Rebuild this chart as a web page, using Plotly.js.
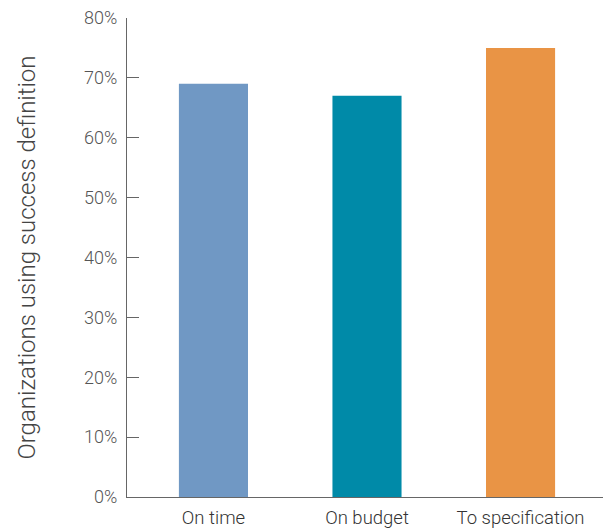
<!DOCTYPE html>
<html>
<head>
<meta charset="utf-8">
<script src="https://cdn.plot.ly/plotly-3.0.1.min.js"></script>
<style>html,body{margin:0;padding:0;background:#fff;}#chart{width:603px;height:530px;}</style>
</head>
<body>
<div id="chart"></div>
<script>
const categories = ["On time", "On budget", "To specification"];
const values = [69, 67, 75];
const barColors = ["#7098C4", "#008AA8", "#E99445"];
const yTickVals = [0, 10, 20, 30, 40, 50, 60, 70, 80];
const yTickText = ["0%", "10%", "20%", "30%", "40%", "50%", "60%", "70%", "80%"];

const trace = {
  type: "bar",
  x: categories,
  y: values,
  marker: {color: barColors},
  width: 0.45,
  hoverinfo: "none"
};

const fam = "Roboto, Liberation Sans, Arial, sans-serif";

const layout = {
  width: 603, height: 530,
  margin: {l: 127, r: 0, t: 18, b: 32.5},
  paper_bgcolor: "#fff", plot_bgcolor: "#fff",
  showlegend: false,
  font: {family: fam, color: "#444"},
  xaxis: {
    type: "category",
    range: [-0.563, 2.537],
    showline: true, linecolor: "#666", linewidth: 1,
    ticks: "", showgrid: false, zeroline: false,
    ticklabelstandoff: 4,
    tickfont: {size: 18.5, color: "#333", family: fam, weight: 300}
  },
  yaxis: {
    range: [0, 80],
    tickvals: yTickVals, ticktext: yTickText,
    showline: true, linecolor: "#666", linewidth: 1,
    ticks: "inside", ticklen: 12, tickcolor: "#666", tickwidth: 1,
    showgrid: false, zeroline: false,
    ticklabelstandoff: 5,
    tickfont: {size: 18, color: "#555", family: fam, weight: 300},
    title: {text: "Organizations using success definition", font: {size: 24, color: "#444", family: fam, weight: 300}, standoff: 41}
  }
};

Plotly.newPlot("chart", [trace], layout, {displayModeBar: false, staticPlot: true});
</script>
</body>
</html>
